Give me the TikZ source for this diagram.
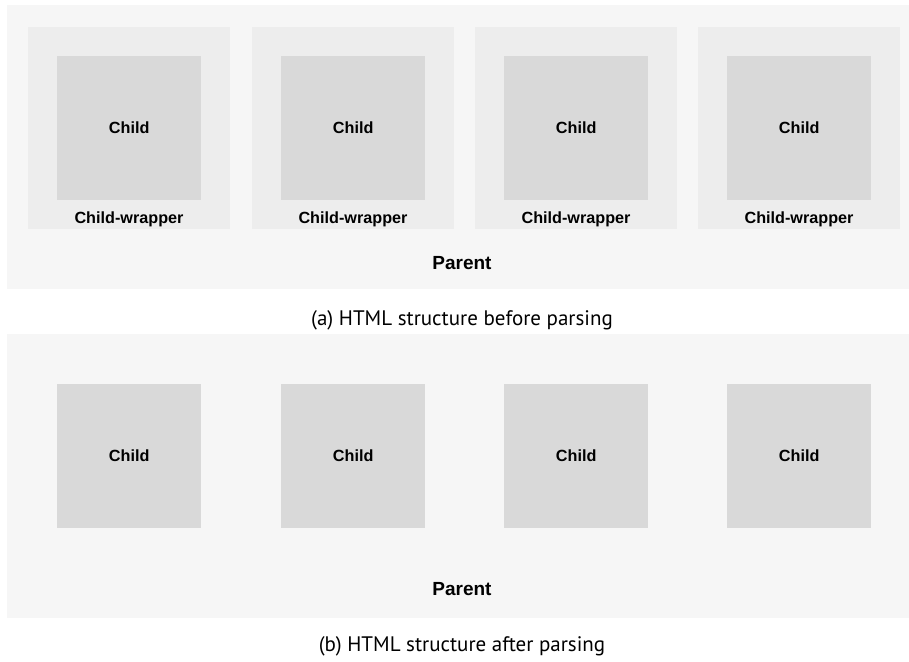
\documentclass[tikz,border=0pt]{standalone}
\usepackage{fontspec}
\setmainfont{Liberation Sans}
\newfontfamily\capfont{PT Sans}
\definecolor{parentbg}{HTML}{F6F6F6}
\definecolor{wrapbg}{HTML}{EDEDED}
\definecolor{childbg}{HTML}{D9D9D9}
\begin{document}
\begin{tikzpicture}[x=1pt,y=-1pt,
  parentbox/.style={fill=parentbg,draw=none,anchor=north west,inner sep=0pt,minimum width=902pt},
  wrapbox/.style={fill=wrapbg,draw=none,anchor=north west,inner sep=0pt,minimum width=202pt,minimum height=202pt},
  childbox/.style={fill=childbg,draw=none,anchor=north west,inner sep=0pt,minimum width=144pt,minimum height=144pt},
  lbl/.style={font=\fontsize{16.2}{19}\selectfont\bfseries,inner sep=0pt},
  plbl/.style={font=\fontsize{19}{22}\selectfont\bfseries,inner sep=0pt},
  captext/.style={font=\capfont\fontsize{21}{24}\selectfont,inner sep=0pt}]
\useasboundingbox (0,0) rectangle (909,661);
% (a)
\node[parentbox,minimum height=284pt] (pa) at (7,5) {};
\foreach \i/\x in {1/28,2/252,3/475,4/698}{
  \node[wrapbox] (w\i) at (\x,27) {};
  \node[childbox] (c\i) at (\x+29,56) {};
  \node[lbl] (cl\i) at (c\i.center) {Child};
  \node[lbl] (wl\i) at (\x+101,219) {Child-wrapper};
}
\node[plbl] (pal) at (462,263) {Parent};
\node[captext] (capa) at (462,320) {(a) HTML structure before parsing};
% (b)
\node[parentbox,minimum height=284pt] (pb) at (7,334) {};
\foreach \i/\x in {1/57,2/281,3/504,4/727}{
  \node[childbox] (d\i) at (\x,384) {};
  \node[lbl] (dl\i) at (d\i.center) {Child};
}
\node[plbl] (pbl) at (462,589) {Parent};
\node[captext] (capb) at (462,646) {(b) HTML structure after parsing};
\end{tikzpicture}
\end{document}
